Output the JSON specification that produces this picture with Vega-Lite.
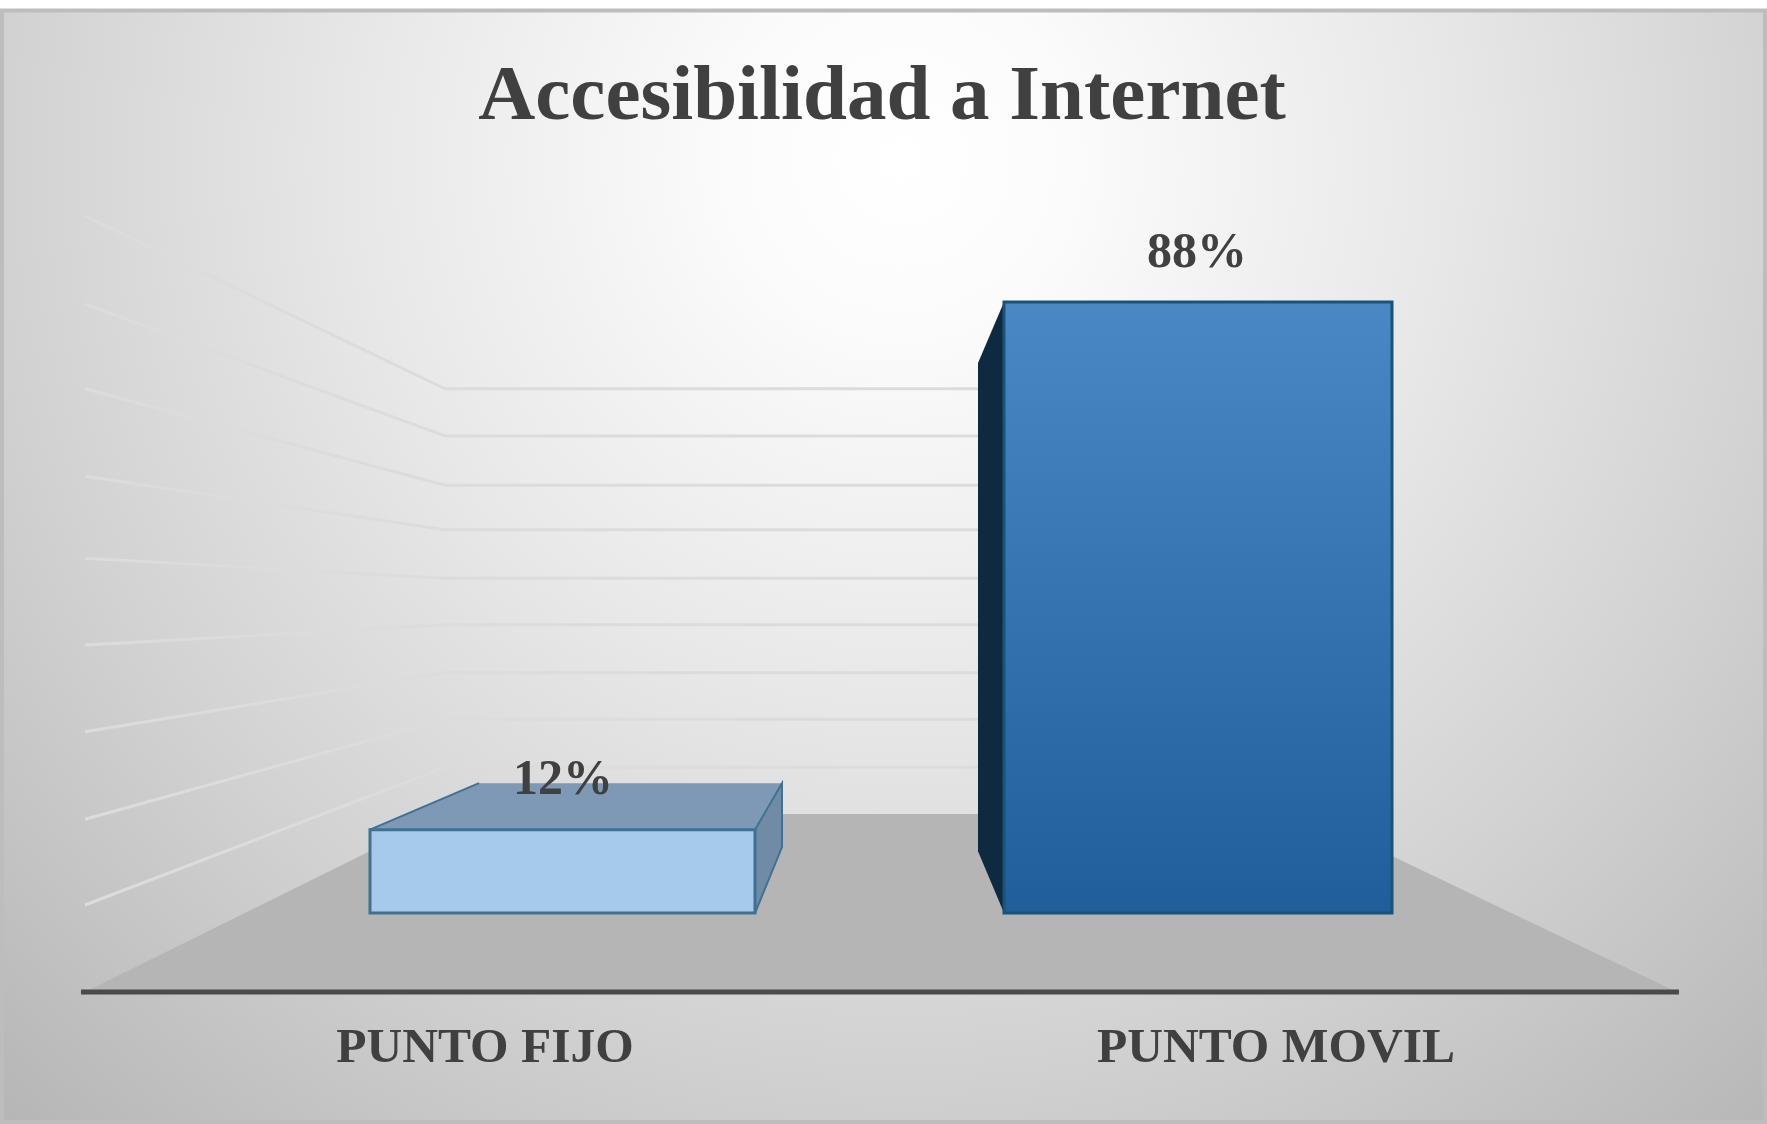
{"$schema":"https://vega.github.io/schema/vega-lite/v6.json","width":1767,"height":1124,"autosize":{"type":"fit","contains":"padding"},"padding":0,"background":"white","config":{"view":{"stroke":null}},
"encoding":{"x":{"field":"x","type":"quantitative","scale":{"domain":[0,1767],"nice":false,"zero":false},"axis":null},"y":{"field":"y","type":"quantitative","scale":{"domain":[-30.39,131.5],"nice":false,"zero":false},"axis":null}},
"layer":[
{"data":{"values":[{"x":2,"x2":1765,"y":130.0,"y2":-30.1}]},"mark":{"type":"rect","stroke":"#bdbdbd","strokeWidth":4,"fill":{"gradient":"radial","x1":0.51,"y1":0.27,"r1":0,"x2":0.51,"y2":0.27,"r2":0.76,"stops":[{"offset":0,"color":"#ffffff"},{"offset":0.13,"color":"#fbfbfb"},{"offset":0.4,"color":"#e8e8e8"},{"offset":0.68,"color":"#d1d1d1"},{"offset":1,"color":"#b4b4b4"}]}},"encoding":{"x2":{"field":"x2"},"y2":{"field":"y2"}}},
{"data":{"values":[
{"g":1,"x":85,"y":100.4},{"g":1,"x":445,"y":75.5},{"g":1,"x":978,"y":75.5},
{"g":2,"x":85,"y":87.7},{"g":2,"x":445,"y":68.7},{"g":2,"x":978,"y":68.7},
{"g":3,"x":85,"y":75.5},{"g":3,"x":445,"y":61.6},{"g":3,"x":978,"y":61.6},
{"g":4,"x":85,"y":62.9},{"g":4,"x":445,"y":55.2},{"g":4,"x":978,"y":55.2},
{"g":5,"x":85,"y":51.1},{"g":5,"x":445,"y":48.2},{"g":5,"x":978,"y":48.2},
{"g":6,"x":85,"y":38.6},{"g":6,"x":445,"y":41.5},{"g":6,"x":978,"y":41.5},
{"g":7,"x":85,"y":26.1},{"g":7,"x":445,"y":34.6},{"g":7,"x":978,"y":34.6},
{"g":8,"x":85,"y":13.5},{"g":8,"x":445,"y":27.9},{"g":8,"x":978,"y":27.9},
{"g":9,"x":85,"y":1.15},{"g":9,"x":445,"y":21.0},{"g":9,"x":978,"y":21.0}
]},"mark":{"type":"line","stroke":"#dcdcdc","strokeWidth":3},"encoding":{"detail":{"field":"g"}}},
{"data":{"values":[{"x":85,"y":-11.38,"y2":-11.38},{"x":445,"y":14.26,"y2":-11.38},{"x":1304,"y":14.26,"y2":-11.38},{"x":1677,"y":-11.38,"y2":-11.38}]},"mark":{"type":"area","fill":"#b5b5b5"},"encoding":{"y2":{"field":"y2"}}},
{"data":{"values":[{"x":81,"x2":1679,"y":-11.38}]},"mark":{"type":"rule","stroke":"#4a4a4a","strokeWidth":5},"encoding":{"x2":{"field":"x2"}}},
{"data":{"values":[{"x":370,"y":12,"y2":12},{"x":479,"y":18.7,"y2":12},{"x":755,"y":18.7,"y2":12},{"x":782,"y":18.7,"y2":18.7}]},"mark":{"type":"area","fill":"#7e99b5"},"encoding":{"y2":{"field":"y2"}}},
{"data":{"values":[{"x":755,"y":12,"y2":0},{"x":782,"y":18.7,"y2":9.5}]},"mark":{"type":"area","fill":"#6f8ba6","stroke":"#3f7292","strokeWidth":2},"encoding":{"y2":{"field":"y2"}}},
{"data":{"values":[{"x":370,"y":12},{"x":479,"y":18.7}]},"mark":{"type":"line","stroke":"#3f7292","strokeWidth":2}},
{"data":{"values":[{"categoria":"PUNTO FIJO","x":370,"x2":755,"y":12,"y2":0}]},"mark":{"type":"rect","fill":"#a5caec","stroke":"#3f7292","strokeWidth":3},"encoding":{"x2":{"field":"x2"},"y2":{"field":"y2"}}},
{"data":{"values":[{"x":978,"y":79.2,"y2":8.9},{"x":1004,"y":88,"y2":0}]},"mark":{"type":"area","fill":"#0e2a40"},"encoding":{"y2":{"field":"y2"}}},
{"data":{"values":[{"categoria":"PUNTO MOVIL","x":1004,"x2":1392,"y":88,"y2":0}]},"mark":{"type":"rect","stroke":"#1b5278","strokeWidth":3,"fill":{"gradient":"linear","x1":0,"y1":0,"x2":0,"y2":1,"stops":[{"offset":0,"color":"#4a88c4"},{"offset":1,"color":"#1f5e99"}]}},"encoding":{"x2":{"field":"x2"},"y2":{"field":"y2"}}},
{"data":{"values":[{"t":"Accesibilidad a Internet","x":882,"y":114.3}]},"mark":{"type":"text","font":"Liberation Serif","fontWeight":"bold","fontSize":79,"fill":"#404040","align":"center","baseline":"alphabetic"},"encoding":{"text":{"field":"t"}}},
{"data":{"values":[{"t":"88%","x":1197,"y":93},{"t":"12%","x":563,"y":17.1}]},"mark":{"type":"text","font":"Liberation Serif","fontWeight":"bold","fontSize":50,"fill":"#404040","align":"center","baseline":"alphabetic"},"encoding":{"text":{"field":"t"}}},
{"data":{"values":[{"t":"PUNTO FIJO","x":485,"y":-21.5},{"t":"PUNTO MOVIL","x":1276,"y":-21.5}]},"mark":{"type":"text","font":"Liberation Serif","fontWeight":"bold","fontSize":49.5,"fill":"#404040","align":"center","baseline":"alphabetic"},"encoding":{"text":{"field":"t"}}}
]}
